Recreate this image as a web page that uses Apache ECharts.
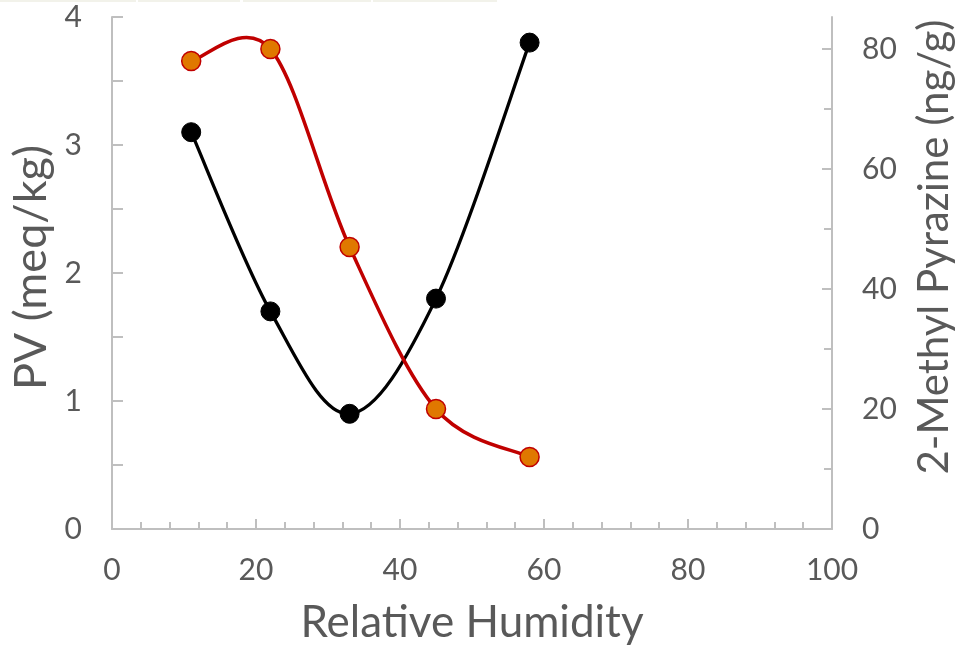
<!DOCTYPE html>
<html><head><meta charset="utf-8">
<script src="https://cdn.jsdelivr.net/npm/echarts@6/dist/echarts.min.js"></script>
<style>html,body{margin:0;padding:0;background:#fff;overflow:hidden}#c{width:961px;height:646px}</style>
</head><body><div id="c"></div>
<script>
const humidity = [11, 22, 33, 45, 58];
const pv = [3.1, 1.7, 0.9, 1.8, 3.8];
const pyrazine = [78, 80, 47, 20, 12];
const xTicks = [0, 20, 40, 60, 80, 100];
const leftTicks = [0, 1, 2, 3, 4];
const rightTicks = [0, 20, 40, 60, 80];
const rightMinorTicks = [10, 30, 50, 70];

const FONT = 'Lato';
const TXT = '#595959';
const AX = '#bfbfbf';

// Excel-like smoothed connector, drawn segment by segment from axis coordinates
function splineRenderer(xs, ys, color, width) {
  return function (params, api) {
    const i = params.dataIndex;
    const n = xs.length;
    if (i >= n - 1) return null;
    const P = j => { const k = Math.max(0, Math.min(n - 1, j)); return api.coord([xs[k], ys[k]]); };
    const p0 = P(i - 1), p1 = P(i), p2 = P(i + 1), p3 = P(i + 2);
    const t = 1 / 6;
    return {
      type: 'bezierCurve',
      shape: {
        x1: p1[0], y1: p1[1], x2: p2[0], y2: p2[1],
        cpx1: p1[0] + (p2[0] - p0[0]) * t, cpy1: p1[1] + (p2[1] - p0[1]) * t,
        cpx2: p2[0] - (p3[0] - p1[0]) * t, cpy2: p2[1] - (p3[1] - p1[1]) * t
      },
      style: {stroke: color, lineWidth: width, fill: null, lineCap: 'round'}
    };
  };
}

const chart = echarts.init(document.getElementById('c'));
chart.setOption({
  animation: false,
  backgroundColor: '#fff',
  textStyle: {fontFamily: FONT},
  graphic: [
    {type:'rect', shape:{x:0,y:0,width:136,height:2}, style:{fill:'#f2f2ea'}},
    {type:'rect', shape:{x:138,y:0,width:102,height:2}, style:{fill:'#f2f2ea'}},
    {type:'rect', shape:{x:243,y:0,width:128,height:2}, style:{fill:'#f2f2ea'}},
    {type:'rect', shape:{x:373,y:0,width:124,height:2}, style:{fill:'#f2f2ea'}}
  ],
  grid: {left: 112, right: 129, top: 17, bottom: 117, containLabel: false, outerBoundsMode: 'none'},
  xAxis: {
    type: 'value', min: xTicks[0], max: xTicks[xTicks.length-1], interval: 20,
    name: 'Relative Humidity', nameLocation: 'middle', nameGap: 72,
    nameTextStyle: {fontSize: 44, color: TXT, fontFamily: FONT},
    axisLine: {show: true, lineStyle: {color: AX, width: 2}},
    axisTick: {show: true, inside: true, length: 10, lineStyle: {color: AX, width: 2}},
    minorTick: {show: true, splitNumber: 5, length: 7, lineStyle: {color: AX, width: 2}},
    splitLine: {show: false}, minorSplitLine: {show: false},
    axisLabel: {fontSize: 30, color: TXT, margin: 26, fontFamily: FONT}
  },
  yAxis: [
    {
      type: 'value', min: leftTicks[0], max: leftTicks[leftTicks.length-1], interval: 1,
      name: 'PV (meq/kg)', nameLocation: 'middle', nameGap: 58,
      nameTextStyle: {fontSize: 45, color: TXT, fontFamily: FONT, padding: [0, 0, 0, 11]},
      axisLine: {show: true, lineStyle: {color: AX, width: 2}},
      axisTick: {show: true, inside: true, length: 11, lineStyle: {color: AX, width: 2}},
      minorTick: {show: true, splitNumber: 2, length: 11, lineStyle: {color: AX, width: 2}},
      splitLine: {show: false}, minorSplitLine: {show: false},
      axisLabel: {fontSize: 30, color: TXT, margin: 30, fontFamily: FONT}
    },
    {
      type: 'value', position: 'right', min: rightTicks[0], max: 256/3, interval: 20,
      name: '2-Methyl Pyrazine (ng/g)', nameLocation: 'middle', nameGap: 81,
      nameTextStyle: {fontSize: 42, color: TXT, fontFamily: FONT, padding: [0, 0, 0, 52]},
      axisLine: {show: true, lineStyle: {color: AX, width: 2}},
      axisTick: {show: true, inside: true, length: 10, customValues: rightTicks, lineStyle: {color: AX, width: 2}},
      minorTick: {show: false},
      splitLine: {show: false},
      axisLabel: {fontSize: 30, color: TXT, margin: 30, fontFamily: FONT, customValues: rightTicks}
    },
    {
      type: 'value', position: 'right', min: rightTicks[0], max: 256/3, interval: 20,
      axisLine: {show: false},
      axisTick: {show: true, inside: true, length: 8, customValues: rightMinorTicks, lineStyle: {color: AX, width: 2}},
      axisLabel: {show: false},
      splitLine: {show: false}
    }
  ],
  series: [
    {
      type: 'custom', yAxisIndex: 0, coordinateSystem: 'cartesian2d',
      renderItem: splineRenderer(humidity, pv, '#000000', 3.3),
      data: humidity.map((x, i) => [x, pv[i]]),
      encode: {x: 0, y: 1}, silent: true, z: 2
    },
    {
      type: 'scatter', yAxisIndex: 0,
      data: humidity.map((x, i) => [x, pv[i]]),
      symbol: 'circle', symbolSize: 19,
      itemStyle: {color: '#000', borderColor: '#000', borderWidth: 1, opacity: 1},
      z: 3
    },
    {
      type: 'custom', yAxisIndex: 1, coordinateSystem: 'cartesian2d',
      renderItem: splineRenderer(humidity, pyrazine, '#c00000', 3.5),
      data: humidity.map((x, i) => [x, pyrazine[i]]),
      encode: {x: 0, y: 1}, silent: true, z: 4
    },
    {
      type: 'scatter', yAxisIndex: 1,
      data: humidity.map((x, i) => [x, pyrazine[i]]),
      symbol: 'circle', symbolSize: 19,
      itemStyle: {color: '#e07800', borderColor: '#c00000', borderWidth: 1.5, opacity: 1},
      z: 5
    }
  ]
});
</script></body></html>
